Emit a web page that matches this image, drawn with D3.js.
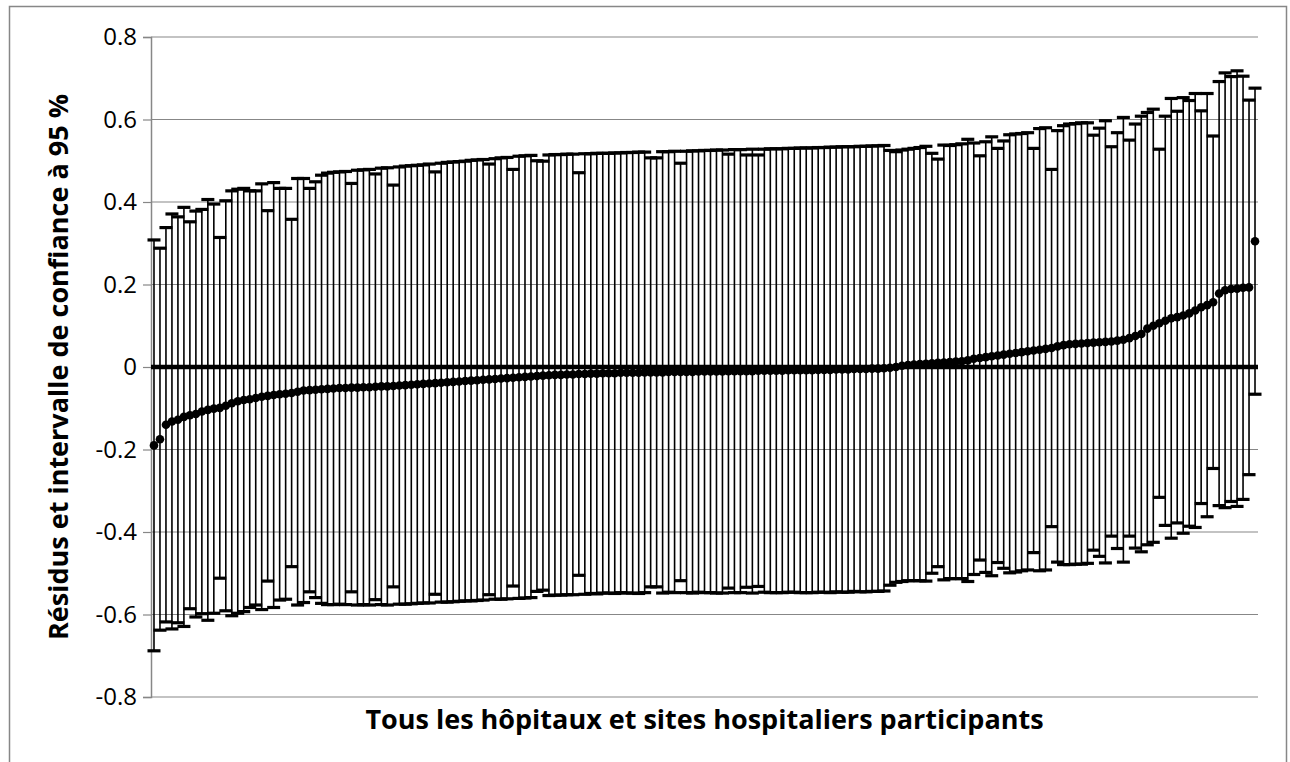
<!DOCTYPE html>
<html>
<head>
<meta charset="utf-8">
<script src="https://cdn.jsdelivr.net/npm/d3@7"></script>
<style>
  html, body { margin: 0; padding: 0; background: #fff; }
  svg { display: block; }
  text { font-family: "Open Sans", "Noto Sans", sans-serif; fill: #000; }
</style>
</head>
<body>
<svg id="chart" width="1290" height="762"></svg>
<script>
// Residuals (point estimates), one per hospital, sorted
const resid = [
-0.190,-0.175,-0.140,-0.132,-0.128,-0.121,-0.117,-0.114,-0.108,-0.104,
-0.101,-0.099,-0.094,-0.088,-0.083,-0.080,-0.078,-0.075,-0.072,-0.070,
-0.068,-0.066,-0.065,-0.063,-0.060,-0.057,-0.056,-0.055,-0.054,-0.053,
-0.052,-0.051,-0.051,-0.050,-0.050,-0.049,-0.049,-0.048,-0.047,-0.047,
-0.046,-0.045,-0.044,-0.043,-0.042,-0.041,-0.040,-0.039,-0.038,-0.037,
-0.036,-0.035,-0.034,-0.033,-0.032,-0.031,-0.030,-0.029,-0.028,-0.027,
-0.026,-0.025,-0.024,-0.023,-0.022,-0.021,-0.020,-0.019,-0.019,-0.018,
-0.018,-0.017,-0.017,-0.016,-0.016,-0.015,-0.015,-0.015,-0.014,-0.014,
-0.014,-0.014,-0.013,-0.013,-0.013,-0.013,-0.012,-0.012,-0.012,-0.012,
-0.012,-0.011,-0.011,-0.011,-0.011,-0.011,-0.010,-0.010,-0.010,-0.010,
-0.010,-0.009,-0.009,-0.009,-0.009,-0.009,-0.008,-0.008,-0.008,-0.008,
-0.008,-0.007,-0.007,-0.007,-0.006,-0.006,-0.006,-0.005,-0.005,-0.005,
-0.004,-0.004,-0.003,-0.002,0.000,0.003,0.005,0.006,0.007,0.008,
0.009,0.010,0.011,0.012,0.013,0.014,0.016,0.020,0.022,0.024,
0.026,0.028,0.030,0.032,0.034,0.036,0.038,0.040,0.042,0.044,
0.046,0.050,0.053,0.055,0.056,0.057,0.058,0.059,0.060,0.061,
0.062,0.064,0.066,0.070,0.075,0.080,0.093,0.100,0.106,0.112,
0.118,0.121,0.125,0.130,0.137,0.145,0.150,0.157,0.178,0.186,
0.189,0.190,0.192,0.193,0.305
];

// Upper bound of the 95 % confidence interval
const upper = [
0.308,0.288,0.338,0.371,0.364,0.387,0.352,0.378,0.382,0.406,
0.395,0.314,0.403,0.427,0.431,0.433,0.427,0.427,0.444,0.379,
0.447,0.433,0.433,0.358,0.457,0.457,0.433,0.449,0.465,0.470,
0.472,0.473,0.474,0.445,0.477,0.478,0.479,0.468,0.482,0.483,
0.441,0.485,0.487,0.488,0.489,0.490,0.492,0.473,0.494,0.496,
0.497,0.498,0.499,0.501,0.502,0.503,0.492,0.505,0.507,0.508,
0.479,0.511,0.512,0.513,0.500,0.499,0.514,0.515,0.515,0.516,
0.516,0.471,0.517,0.517,0.518,0.518,0.518,0.519,0.519,0.520,
0.520,0.521,0.521,0.507,0.507,0.522,0.522,0.523,0.494,0.523,
0.524,0.524,0.525,0.525,0.526,0.526,0.516,0.527,0.527,0.514,
0.528,0.514,0.528,0.529,0.529,0.529,0.530,0.530,0.531,0.531,
0.531,0.532,0.532,0.533,0.533,0.534,0.534,0.534,0.535,0.535,
0.536,0.536,0.537,0.525,0.522,0.526,0.528,0.530,0.532,0.535,
0.518,0.504,0.538,0.537,0.539,0.541,0.552,0.543,0.512,0.546,
0.558,0.530,0.548,0.563,0.565,0.566,0.568,0.530,0.578,0.580,
0.479,0.573,0.585,0.589,0.590,0.592,0.592,0.562,0.579,0.597,
0.534,0.568,0.605,0.550,0.589,0.608,0.617,0.625,0.528,0.608,
0.651,0.620,0.653,0.646,0.663,0.621,0.663,0.560,0.692,0.713,
0.704,0.718,0.705,0.647,0.676
];

// Lower bound of the 95 % confidence interval
const lower = [
-0.688,-0.638,-0.618,-0.635,-0.620,-0.629,-0.586,-0.606,-0.598,-0.614,
-0.597,-0.512,-0.591,-0.603,-0.597,-0.593,-0.583,-0.577,-0.588,-0.519,
-0.583,-0.565,-0.563,-0.484,-0.577,-0.571,-0.545,-0.559,-0.573,-0.576,
-0.576,-0.575,-0.576,-0.545,-0.577,-0.576,-0.577,-0.564,-0.576,-0.577,
-0.533,-0.575,-0.575,-0.574,-0.573,-0.572,-0.572,-0.551,-0.570,-0.570,
-0.569,-0.568,-0.567,-0.567,-0.566,-0.565,-0.552,-0.563,-0.563,-0.562,
-0.531,-0.561,-0.560,-0.559,-0.544,-0.541,-0.554,-0.553,-0.553,-0.552,
-0.552,-0.505,-0.551,-0.549,-0.550,-0.548,-0.548,-0.549,-0.547,-0.548,
-0.548,-0.549,-0.547,-0.533,-0.533,-0.548,-0.546,-0.547,-0.518,-0.547,
-0.548,-0.546,-0.547,-0.547,-0.548,-0.548,-0.536,-0.547,-0.547,-0.534,
-0.548,-0.532,-0.546,-0.547,-0.547,-0.547,-0.546,-0.546,-0.547,-0.547,
-0.547,-0.546,-0.546,-0.547,-0.545,-0.546,-0.546,-0.544,-0.545,-0.545,
-0.544,-0.544,-0.543,-0.529,-0.522,-0.520,-0.518,-0.518,-0.518,-0.519,
-0.500,-0.484,-0.516,-0.513,-0.513,-0.513,-0.520,-0.503,-0.468,-0.498,
-0.506,-0.474,-0.488,-0.499,-0.497,-0.494,-0.492,-0.450,-0.494,-0.492,
-0.387,-0.473,-0.479,-0.479,-0.478,-0.478,-0.476,-0.444,-0.459,-0.475,
-0.410,-0.440,-0.473,-0.410,-0.439,-0.448,-0.431,-0.425,-0.316,-0.384,
-0.415,-0.378,-0.403,-0.386,-0.389,-0.331,-0.363,-0.246,-0.336,-0.341,
-0.326,-0.338,-0.321,-0.261,-0.066
];

const yTickValues = [0.8, 0.6, 0.4, 0.2, 0, -0.2, -0.4, -0.6, -0.8];
const yTickLabels = ["0.8", "0.6", "0.4", "0.2", "0", "-0.2", "-0.4", "-0.6", "-0.8"];
const yTitle = "Résidus et intervalle de confiance à 95 %";
const xTitle = "Tous les hôpitaux et sites hospitaliers participants";

const hospitals = resid.map((_, i) => i);
const data = hospitals.map((h, i) => ({ h, r: resid[i], lo: lower[i], hi: upper[i] }));

const svg = d3.select("#chart");
const plot = { left: 151, right: 1258, top: 37, bottom: 697 };

// outer chart border
svg.append("rect")
  .attr("x", 9.5).attr("y", 6.5)
  .attr("width", 1277).attr("height", 780)
  .attr("fill", "none").attr("stroke", "#878787").attr("stroke-width", 1.5);

const x = d3.scalePoint().domain(hospitals).range([plot.left, plot.right]).padding(0.5);
const y = d3.scaleLinear().domain([-0.8, 0.8]).range([plot.bottom, plot.top]);

// gridlines
svg.append("g").selectAll("line").data(yTickValues).join("line")
  .attr("x1", plot.left).attr("x2", plot.right)
  .attr("y1", d => y(d)).attr("y2", d => y(d))
  .attr("stroke", "#878787").attr("stroke-width", 1.2);

// y axis
const yAxis = d3.axisLeft(y).tickValues(yTickValues)
  .tickFormat((d, i) => yTickLabels[i]).tickSize(8).tickPadding(6);
const gy = svg.append("g").attr("transform", `translate(${plot.left},0)`).call(yAxis);
gy.select(".domain").attr("stroke", "#878787").attr("stroke-width", 1.5);
gy.selectAll(".tick line").attr("stroke", "#878787").attr("stroke-width", 1.2);
gy.selectAll(".tick text").attr("font-size", 24).attr("fill", "#000")
  .style("font-family", "'Open Sans', 'Noto Sans', sans-serif");

// CI lines
svg.append("g").selectAll("line").data(data).join("line")
  .attr("x1", d => x(d.h)).attr("x2", d => x(d.h))
  .attr("y1", d => y(d.hi)).attr("y2", d => y(d.lo))
  .attr("stroke", "#000").attr("stroke-width", 1.6);

// caps
const capHalf = 6.5;
const caps = svg.append("g");
caps.selectAll("line.hi").data(data).join("line").attr("class", "hi")
  .attr("x1", d => x(d.h) - capHalf).attr("x2", d => x(d.h) + capHalf)
  .attr("y1", d => y(d.hi)).attr("y2", d => y(d.hi))
  .attr("stroke", "#000").attr("stroke-width", 3.2);
caps.selectAll("line.lo").data(data).join("line").attr("class", "lo")
  .attr("x1", d => x(d.h) - capHalf).attr("x2", d => x(d.h) + capHalf)
  .attr("y1", d => y(d.lo)).attr("y2", d => y(d.lo))
  .attr("stroke", "#000").attr("stroke-width", 3.2);

// zero reference line
svg.append("line")
  .attr("x1", plot.left).attr("x2", plot.right)
  .attr("y1", y(0)).attr("y2", y(0))
  .attr("stroke", "#000").attr("stroke-width", 4.5);

// residual points
svg.append("g").selectAll("circle").data(data).join("circle")
  .attr("cx", d => x(d.h)).attr("cy", d => y(d.r))
  .attr("r", 4.3).attr("fill", "#000");

// axis titles
svg.append("text")
  .attr("transform", `translate(68,${(plot.top + plot.bottom) / 2}) rotate(-90)`)
  .attr("text-anchor", "middle")
  .attr("font-size", 27).attr("font-weight", "bold")
  .text(yTitle);

svg.append("text")
  .attr("x", (plot.left + plot.right) / 2).attr("y", 729)
  .attr("text-anchor", "middle")
  .attr("font-size", 27).attr("font-weight", "bold")
  .text(xTitle);
</script>
</body>
</html>
